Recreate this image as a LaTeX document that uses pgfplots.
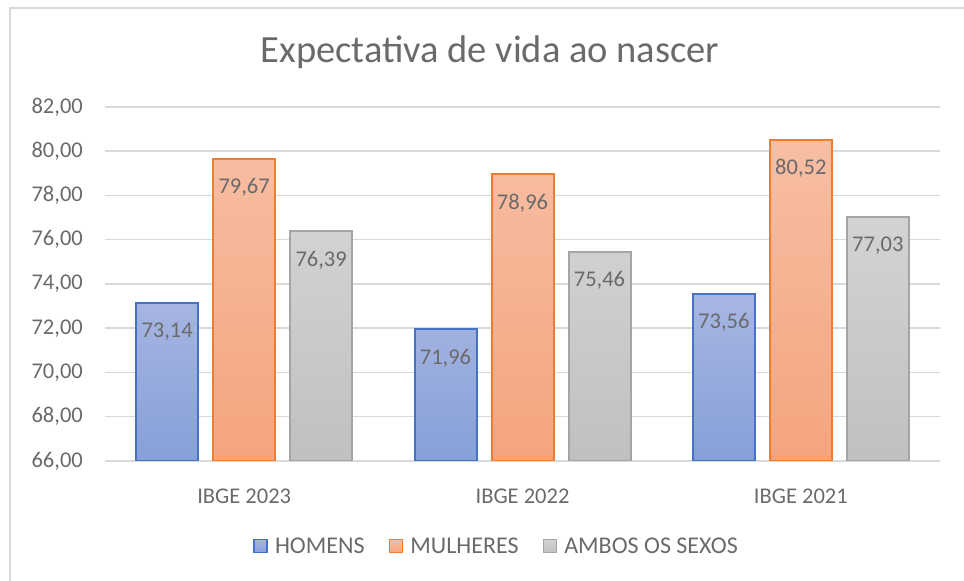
\documentclass[border=0pt]{standalone}
\usepackage{pgfplots}
\pgfplotsset{compat=1.18}
\usepackage{fontspec}
\setmainfont{Carlito}
\definecolor{txt}{HTML}{6A6A6A}
\definecolor{gridc}{HTML}{D9D9D9}
\definecolor{homD}{HTML}{4472C4}
\definecolor{homT}{HTML}{A8B6E2}
\definecolor{homB}{HTML}{86A0D8}
\definecolor{mulD}{HTML}{ED7D31}
\definecolor{mulT}{HTML}{F7BEA3}
\definecolor{mulB}{HTML}{F5A47E}
\definecolor{ambD}{HTML}{A5A5A5}
\definecolor{ambT}{HTML}{D3D3D3}
\definecolor{ambB}{HTML}{C0C0C0}
\pgfplotsset{legimg/.style={legend image code/.code={\draw[##1,line width=1.5bp] (0bp,-6.5bp) rectangle (13bp,6.5bp);\path[draw=none] (19bp,0bp) -- (19bp,0.01bp);}}}
\begin{document}
\begin{tikzpicture}
\useasboundingbox (0,0) rectangle (964bp,581bp);
\draw[gridc, line width=2bp] (10bp,0) -- (10bp,573bp) -- (964bp,573bp);
\begin{axis}[
  at={(105bp,120bp)}, anchor=south west,
  width=835bp, height=354bp, scale only axis,
  xmin=-0.5, xmax=2.5, ymin=66, ymax=82,
  ytick={66,68,...,82},
  xtick={0,1,2}, xticklabels={IBGE 2023, IBGE 2022, IBGE 2021},
  axis line style={draw=none}, tick style={draw=none},
  ymajorgrids, grid style={gridc, line width=1.5bp},
  ybar=15bp, bar width=62bp,
  /pgf/number format/.cd, use comma, fixed, fixed zerofill, precision=2, assume math mode=true,
  /pgfplots/.cd,
  yticklabel style={anchor=east, inner sep=0pt, xshift=-22bp, font=\fontsize{22.5bp}{26bp}\selectfont, text=txt},
  xticklabel style={anchor=center, inner sep=0pt, yshift=-31bp, font=\fontsize{22.5bp}{26bp}\selectfont, text=txt},
  nodes near coords,
  every node near coord/.append style={anchor=center, yshift=-29bp, font=\fontsize{22.5bp}{26bp}\selectfont, text=txt},
  legend columns=3,
  legend style={draw=none, fill=none, at={(0.469,-0.24)}, anchor=center,
    font=\fontsize{24bp}{28bp}\selectfont, text=txt,
    /tikz/every even column/.append style={column sep=22bp}},
]
\addplot[legimg, draw=homD, line width=2bp, top color=homT, bottom color=homB] coordinates {(0,73.14) (1,71.96) (2,73.56)};
\addlegendentry{HOMENS}
\addplot[legimg, draw=mulD, line width=2bp, top color=mulT, bottom color=mulB] coordinates {(0,79.67) (1,78.96) (2,80.52)};
\addlegendentry{MULHERES}
\addplot[legimg, draw=ambD, line width=2bp, top color=ambT, bottom color=ambB] coordinates {(0,76.39) (1,75.46) (2,77.03)};
\addlegendentry{AMBOS OS SEXOS}
\end{axis}
\node[text=txt, font=\fontsize{38.5bp}{45bp}\selectfont] at (490bp,529bp) {Expectativa de vida ao nascer};
\end{tikzpicture}
\end{document}
